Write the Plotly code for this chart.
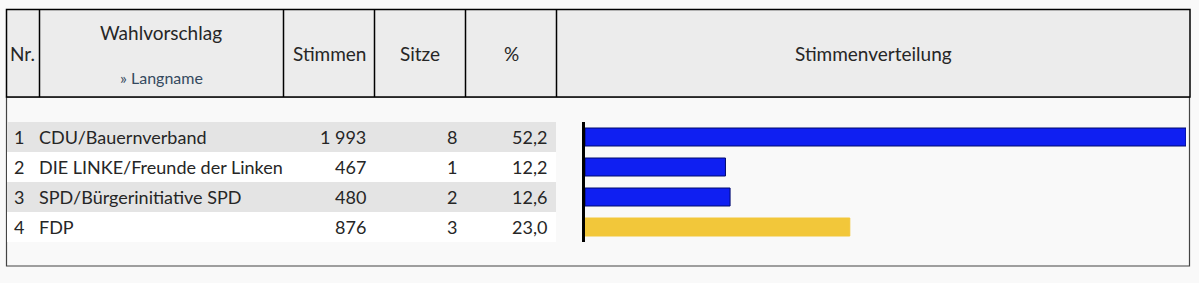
import plotly.graph_objects as go

W, H = 1199, 283

nr = ["1", "2", "3", "4"]
wahlvorschlag = ["CDU/Bauernverband", "DIE LINKE/Freunde der Linken",
                 "SPD/Bürgerinitiative SPD", "FDP"]
stimmen = [1993, 467, 480, 876]
sitze = [8, 1, 2, 3]
prozent = [52.2, 12.2, 12.6, 23.0]
bar_colors = ["#0f1ff2", "#0f1ff2", "#0f1ff2", "#f2c73a"]
bar_edges = ["#000a6e", "#000a6e", "#000a6e", "#f2c73a"]
header_cols = ["Nr.", "Wahlvorschlag", "Stimmen", "Sitze", "%", "Stimmenverteilung"]
sub_header = "» Langname"

FONT = "Lato"
TXT = "#262626"


def px(x):
    return x / W


def py(y):
    return 1 - y / H


def fmt_int(v):
    s = f"{v:,}"
    return s.replace(",", "\u202f")


def fmt_pct(v):
    return f"{v:.1f}".replace(".", ",")


shapes = []
ann = []

# body box
shapes.append(dict(type="rect", xref="paper", yref="paper",
                   x0=px(6.5), x1=px(1189.5), y0=py(266), y1=py(97),
                   fillcolor="#f9f9f9", line=dict(color="#444444", width=1.2), layer="below"))
# header box
shapes.append(dict(type="rect", xref="paper", yref="paper",
                   x0=px(6.5), x1=px(1190), y0=py(97), y1=py(9.5),
                   fillcolor="#ececec", line=dict(color="#000000", width=1.5), layer="below"))
for xl in [39.5, 283.5, 374.5, 465.5, 556.5]:
    shapes.append(dict(type="line", xref="paper", yref="paper",
                       x0=px(xl), x1=px(xl), y0=py(97), y1=py(9.5),
                       line=dict(color="#000000", width=1.5), layer="below"))

# row bands
row_top = 122
row_h = 30
for i in range(len(nr)):
    y0 = row_top + i * row_h
    shapes.append(dict(type="rect", xref="paper", yref="paper",
                       x0=px(7), x1=px(556), y0=py(y0 + row_h), y1=py(y0),
                       fillcolor="#e4e4e4" if i % 2 == 0 else "#ffffff",
                       line=dict(width=0), layer="below"))


def text(x, y, s, anchor="center", size=18, color=TXT):
    ann.append(dict(xref="paper", yref="paper", x=px(x), y=py(y), text=s,
                    showarrow=False, xanchor=anchor, yanchor="middle",
                    font=dict(family=FONT, size=size, color=color)))


# header texts
text(22.5, 53, header_cols[0], size=19)
text(161, 32, header_cols[1], size=19)
text(161, 78, sub_header, size=16, color="#34495e")
text(329, 53, header_cols[2], size=19)
text(420, 53, header_cols[3], size=19)
text(511, 53, header_cols[4], size=19)
text(873, 53, header_cols[5], size=19)

# rows
for i in range(len(nr)):
    yc = row_top + i * row_h + row_h / 2
    text(12, yc, nr[i], anchor="left")
    text(37, yc, wahlvorschlag[i], anchor="left")
    text(368, yc, fmt_int(stimmen[i]), anchor="right")
    text(459, yc, str(sitze[i]), anchor="right")
    text(549, yc, fmt_pct(prozent[i]), anchor="right")

fig = go.Figure()
fig.add_trace(go.Bar(
    x=prozent, y=list(range(len(prozent))), orientation="h",
    width=0.6,
    marker=dict(color=bar_colors, line=dict(color=bar_edges, width=1)),
    hoverinfo="skip", showlegend=False,
))

fig.update_layout(
    width=W, height=H,
    margin=dict(l=0, r=0, t=0, b=0),
    paper_bgcolor="#f9f9f9", plot_bgcolor="rgba(0,0,0,0)",
    shapes=shapes, annotations=ann,
    xaxis=dict(domain=[px(585), px(1186)], range=[0, max(prozent)],
               showgrid=False, zeroline=False, showticklabels=False,
               showline=False, fixedrange=True),
    yaxis=dict(domain=[py(row_top + 4 * row_h), py(row_top)],
               range=[len(prozent) - 0.5, -0.5],
               showgrid=False, zeroline=False, showticklabels=False,
               showline=True, linecolor="#000000", linewidth=3,
               fixedrange=True),
)

fig.write_html("out.html")
